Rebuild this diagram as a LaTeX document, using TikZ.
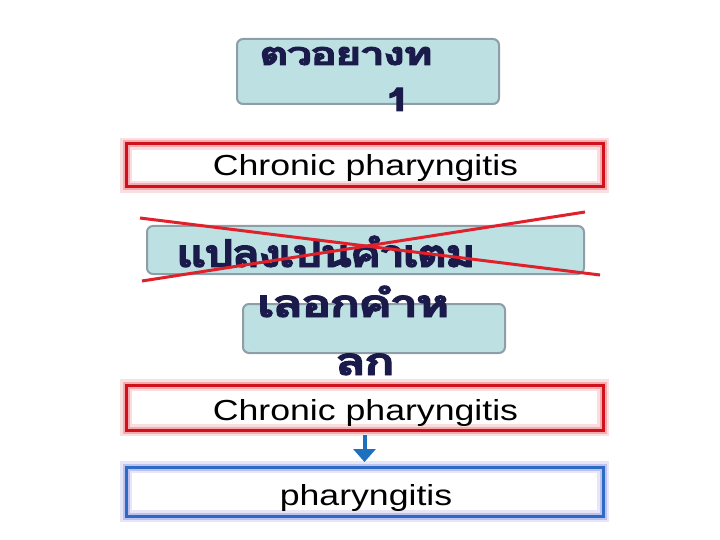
\documentclass[tikz,border=0pt]{standalone}
\usepackage{fontspec}
\setmainfont{Liberation Sans}
\newfontfamily\thaifont[Script=Thai,FakeBold=2.5,LetterSpace=-5]{Loma}
\usetikzlibrary{arrows.meta}
\definecolor{tealfill}{HTML}{BDE0E3}
\definecolor{tealline}{HTML}{8E9EA6}
\definecolor{navy}{HTML}{1B1B4B}
\definecolor{redline}{HTML}{D0101A}
\definecolor{redglow}{HTML}{F07A80}
\definecolor{blueline}{HTML}{2A6CC4}
\definecolor{blueglow}{HTML}{9C9CE6}
\definecolor{arrowblue}{HTML}{1F6FBF}
\definecolor{xred}{HTML}{E0202A}
\tikzset{
  tealbox/.style={draw=tealline, fill=tealfill, line width=2pt, rounded corners=6pt, inner sep=0pt, outer sep=0pt},
  redbox/.style={draw=redline, line width=3pt, inner sep=0pt, outer sep=0pt,
     preaction={fill=white},
     preaction={draw=redglow, opacity=0.25, line width=12pt},
     preaction={draw=redglow, opacity=0.5, line width=7pt}},
  bluebox/.style={draw=blueline, line width=3pt, inner sep=0pt, outer sep=0pt,
     preaction={fill=white},
     preaction={draw=blueglow, opacity=0.25, line width=12pt},
     preaction={draw=blueglow, opacity=0.5, line width=7pt}},
  thaitext/.style={text=navy, font=\thaifont\bfseries\fontsize{48}{52}\selectfont, inner sep=0pt},
  engtext/.style={text=black, inner sep=0pt},
  xline/.style={draw=xred, line width=3pt},
  downarrow/.style={draw=arrowblue, line width=4pt, -{Triangle[width=22pt,length=13pt]}, shorten <=5pt, shorten >=5pt}
}
\newcommand{\eng}[1]{\scalebox{1.23}[1]{\fontsize{29}{34}\selectfont #1}}
\begin{document}
\begin{tikzpicture}[x=1pt,y=-1pt]
\useasboundingbox (0,0) rectangle (720,540);
% boxes
\node[tealbox, minimum width=262pt, minimum height=65pt] (b1) at (368,71.5) {};
\node[redbox, minimum width=477pt, minimum height=43pt] (b2) at (364.5,165.5) {};
\node[tealbox, minimum width=437pt, minimum height=48pt] (b3) at (365.5,250) {};
\node[tealbox, minimum width=262pt, minimum height=49pt] (b4) at (374,328.5) {};
\node[redbox, minimum width=477pt, minimum height=45pt] (b5) at (364.5,407.5) {};
\node[bluebox, minimum width=477pt, minimum height=49pt] (b6) at (364.5,491.5) {};
% texts
\node[thaitext, anchor=base west] (t1a) at (259,65) {\scalebox{0.95}[0.67]{ตวอยางท}};
\node[thaitext, anchor=base] (t1b) at (398,111) {\scalebox{0.98}[0.67]{1}};
\node[engtext, anchor=base] (t2) at (365.5,175.5) {\eng{Chronic pharyngitis}};
\node[thaitext, anchor=base west] (t3) at (176,267) {\scalebox{0.98}[0.8]{แปลงเปนคำเตม}};
\node[thaitext, anchor=base west] (t4a) at (257,317) {\scalebox{1.07}[0.8]{เลอกคำห}};
\node[thaitext, anchor=base] (t4b) at (365,375) {\scalebox{1.07}[0.8]{ลก}};
\node[engtext, anchor=base] (t5) at (365.5,420) {\eng{Chronic pharyngitis}};
\node[engtext, anchor=base] (t6) at (366,505) {\eng{pharyngitis}};
% cross
\coordinate (x1) at (140,218);
\coordinate (x2) at (600,275);
\coordinate (x3) at (142,281);
\coordinate (x4) at (585,212);
\draw[xline] (x1) -- (x2);
\draw[xline] (x3) -- (x4);
% arrow
\draw[downarrow] (b5.south) -- (b6.north);
\end{tikzpicture}
\end{document}
